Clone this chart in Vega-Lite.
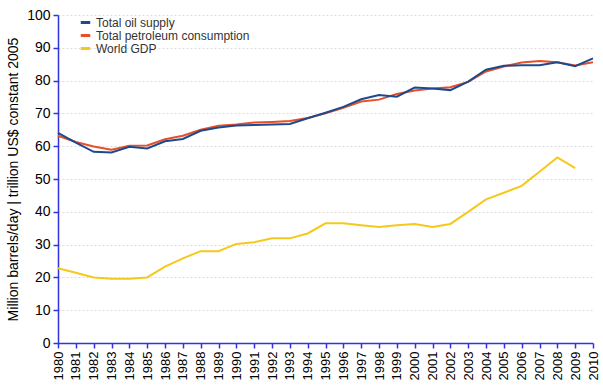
{
  "$schema": "https://vega.github.io/schema/vega-lite/v6.json",
  "width": 535,
  "height": 328,
  "autosize": {"type": "none"},
  "padding": {"left": 58, "top": 15, "right": 10, "bottom": 46},
  "background": "white",
  "config": {
    "font": "Liberation Sans",
    "view": {"stroke": null}
  },
  "datasets": {
    "oil": [
      {"year": 1980, "v": 64.1}, {"year": 1981, "v": 61.1}, {"year": 1982, "v": 58.3}, {"year": 1983, "v": 58.1},
      {"year": 1984, "v": 59.8}, {"year": 1985, "v": 59.3}, {"year": 1986, "v": 61.5}, {"year": 1987, "v": 62.2},
      {"year": 1988, "v": 64.7}, {"year": 1989, "v": 65.7}, {"year": 1990, "v": 66.3}, {"year": 1991, "v": 66.5},
      {"year": 1992, "v": 66.6}, {"year": 1993, "v": 66.8}, {"year": 1994, "v": 68.5}, {"year": 1995, "v": 70.2},
      {"year": 1996, "v": 72.0}, {"year": 1997, "v": 74.3}, {"year": 1998, "v": 75.6}, {"year": 1999, "v": 75.1},
      {"year": 2000, "v": 77.9}, {"year": 2001, "v": 77.6}, {"year": 2002, "v": 77.1}, {"year": 2003, "v": 79.7},
      {"year": 2004, "v": 83.3}, {"year": 2005, "v": 84.5}, {"year": 2006, "v": 84.7}, {"year": 2007, "v": 84.7},
      {"year": 2008, "v": 85.6}, {"year": 2009, "v": 84.4}, {"year": 2010, "v": 86.8}
    ],
    "cons": [
      {"year": 1980, "v": 63.2}, {"year": 1981, "v": 61.3}, {"year": 1982, "v": 59.9}, {"year": 1983, "v": 58.9},
      {"year": 1984, "v": 60.1}, {"year": 1985, "v": 60.2}, {"year": 1986, "v": 62.1}, {"year": 1987, "v": 63.2},
      {"year": 1988, "v": 65.0}, {"year": 1989, "v": 66.2}, {"year": 1990, "v": 66.6}, {"year": 1991, "v": 67.2},
      {"year": 1992, "v": 67.4}, {"year": 1993, "v": 67.7}, {"year": 1994, "v": 68.6}, {"year": 1995, "v": 70.0},
      {"year": 1996, "v": 71.7}, {"year": 1997, "v": 73.6}, {"year": 1998, "v": 74.2}, {"year": 1999, "v": 75.9},
      {"year": 2000, "v": 77.0}, {"year": 2001, "v": 77.6}, {"year": 2002, "v": 78.0}, {"year": 2003, "v": 79.6},
      {"year": 2004, "v": 82.8}, {"year": 2005, "v": 84.3}, {"year": 2006, "v": 85.5}, {"year": 2007, "v": 86.0},
      {"year": 2008, "v": 85.6}, {"year": 2009, "v": 84.6}, {"year": 2010, "v": 85.6}
    ],
    "gdp": [
      {"year": 1980, "v": 22.8}, {"year": 1981, "v": 21.4}, {"year": 1982, "v": 20.0}, {"year": 1983, "v": 19.6},
      {"year": 1984, "v": 19.6}, {"year": 1985, "v": 20.0}, {"year": 1986, "v": 23.3}, {"year": 1987, "v": 25.8},
      {"year": 1988, "v": 28.0}, {"year": 1989, "v": 28.0}, {"year": 1990, "v": 30.2}, {"year": 1991, "v": 30.7},
      {"year": 1992, "v": 31.9}, {"year": 1993, "v": 31.9}, {"year": 1994, "v": 33.4}, {"year": 1995, "v": 36.5},
      {"year": 1996, "v": 36.5}, {"year": 1997, "v": 35.9}, {"year": 1998, "v": 35.4}, {"year": 1999, "v": 35.9},
      {"year": 2000, "v": 36.3}, {"year": 2001, "v": 35.4}, {"year": 2002, "v": 36.3}, {"year": 2003, "v": 40.0},
      {"year": 2004, "v": 43.8}, {"year": 2005, "v": 45.8}, {"year": 2006, "v": 47.9}, {"year": 2007, "v": 52.2},
      {"year": 2008, "v": 56.6}, {"year": 2009, "v": 53.3}
    ]
  },
  "encoding": {
    "x": {
      "field": "year", "type": "quantitative",
      "scale": {"domain": [1980, 2010], "nice": false, "zero": false},
      "axis": {
        "title": null,
        "values": [1980,1981,1982,1983,1984,1985,1986,1987,1988,1989,1990,1991,1992,1993,1994,1995,1996,1997,1998,1999,2000,2001,2002,2003,2004,2005,2006,2007,2008,2009,2010],
        "format": "d",
        "labelAngle": 270,
        "labelAlign": "right",
        "labelBaseline": "middle",
        "labelFontSize": 13,
        "labelColor": "#000000",
        "labelPadding": 3,
        "labelOverlap": false,
        "labelFlush": false,
        "domainColor": "#3333dd",
        "domainWidth": 1.5,
        "tickColor": "#3333dd",
        "tickSize": 5,
        "tickWidth": 1.5,
        "grid": false
      }
    },
    "y": {
      "field": "v", "type": "quantitative",
      "scale": {"domain": [0, 100], "nice": false},
      "axis": {
        "title": "Million barrels/day | trillion US$ constant 2005",
        "titleFontSize": 14,
        "titleFontWeight": "normal",
        "titleColor": "#000000",
        "titlePadding": 6,
        "values": [0,10,20,30,40,50,60,70,80,90,100],
        "labelFontSize": 14,
        "labelColor": "#000000",
        "labelPadding": 3,
        "labelOverlap": false,
        "domainColor": "#3333dd",
        "domainWidth": 1.5,
        "tickColor": "#3333dd",
        "tickSize": 5,
        "tickWidth": 1.5,
        "grid": true,
        "gridColor": "#dddddd",
        "gridDash": [2, 2],
        "gridWidth": 1
      }
    },
    "color": {
      "field": "series", "type": "nominal",
      "scale": {
        "domain": ["Total oil supply", "Total petroleum consumption", "World GDP"],
        "range": ["#1c4a8c", "#e84e28", "#f6c81c"]
      },
      "legend": {
        "title": null,
        "orient": "none",
        "legendX": 21,
        "legendY": 1,
        "symbolType": "stroke",
        "symbolSize": 90,
        "symbolStrokeWidth": 3,
        "labelFontSize": 12,
        "labelColor": "#333333",
        "labelOffset": 4,
        "rowPadding": -3
      }
    }
  },
  "layer": [
    {
      "data": {"name": "gdp"},
      "transform": [{"calculate": "'World GDP'", "as": "series"}],
      "mark": {"type": "line", "strokeWidth": 2}
    },
    {
      "data": {"name": "cons"},
      "transform": [{"calculate": "'Total petroleum consumption'", "as": "series"}],
      "mark": {"type": "line", "strokeWidth": 2}
    },
    {
      "data": {"name": "oil"},
      "transform": [{"calculate": "'Total oil supply'", "as": "series"}],
      "mark": {"type": "line", "strokeWidth": 2}
    }
  ]
}
